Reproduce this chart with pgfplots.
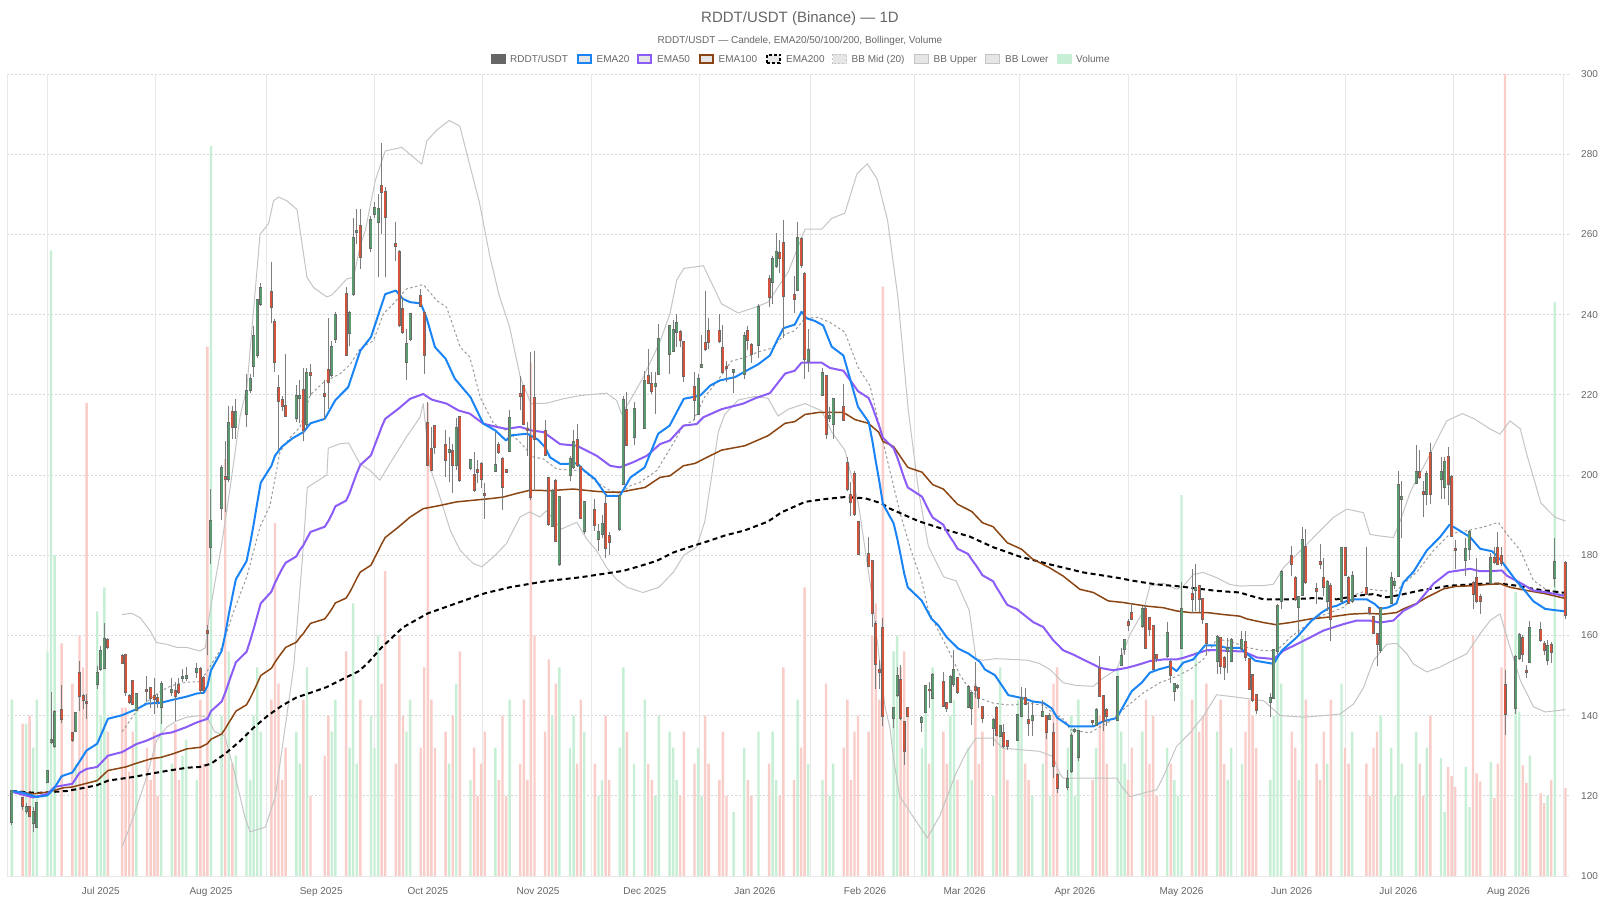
\documentclass[border=0pt]{standalone}
\usepackage{fontspec}
\setmainfont{Liberation Sans}
\usepackage{pgfplots}
\usepackage{pgfplotstable}
\pgfplotsset{compat=1.18}

\definecolor{txt}{HTML}{666666}
\definecolor{upc}{HTML}{5B9A6F}
\definecolor{dnc}{HTML}{D2553B}
\definecolor{bodyb}{HTML}{6A6A6A}
\definecolor{wick}{HTML}{7E7E7E}
\definecolor{volup}{HTML}{C6EFD5}
\definecolor{voldn}{HTML}{F9CDC8}
\definecolor{emaa}{HTML}{1A84F5}
\definecolor{emab}{HTML}{8B5CF6}
\definecolor{emac}{HTML}{8B4513}
\definecolor{bbc}{HTML}{C4C4C4}
\definecolor{bbm}{HTML}{9A9A9A}
\definecolor{gv}{HTML}{E8E8E8}
\definecolor{gh}{HTML}{D6D6D6}
\definecolor{legfill}{HTML}{E6E6E6}

\pgfplotstableread{
d o h l c v
0 113.5 121.5 112.7 121.2 22
4 116.2 118.2 115.5 117.2 19
6 113.1 117.2 111.0 116.0 16
7 112.3 118.4 112.0 118.2 22
10 123.4 126.3 123.2 126.2 28
11 133.4 145.8 132.9 133.9 78
12 132.3 141.3 132.0 141.0 40
18 136.1 140.8 135.8 140.7 14
24 147.8 152.4 146.6 150.5 33
25 151.6 157.4 151.2 156.0 20
26 151.8 163.2 151.6 159.0 36
35 141.4 145.5 141.2 145.4 21
42 142.2 148.7 138.0 147.8 24
45 146.0 149.5 145.0 146.4 14
48 149.3 151.6 148.3 149.7 15
49 149.5 152.1 148.7 149.9 17
52 150.8 153.0 149.5 151.5 12
56 182.0 196.6 177.8 188.6 91
59 191.7 202.5 188.9 201.8 20
61 199.1 217.3 198.2 212.9 28
63 212.0 219.0 209.1 215.6 15
66 215.1 225.3 212.0 220.9 18
67 221.1 225.3 220.4 224.0 12
68 227.1 237.2 224.4 234.7 20
69 230.0 244.0 229.3 243.6 26
70 242.7 248.0 242.2 246.7 18
80 214.2 222.5 213.3 219.8 18
81 219.2 223.6 212.9 219.6 14
83 212.7 226.7 212.0 225.5 26
90 224.9 233.3 224.4 232.0 18
91 234.0 240.6 233.0 240.0 22
95 235.4 240.9 232.1 240.3 16
96 245.1 264.0 244.7 259.1 34
97 260.5 266.3 257.6 260.9 14
101 256.6 264.5 255.5 263.6 20
102 265.0 268.0 264.2 266.6 16
103 263.0 270.0 249.3 266.3 30
111 228.1 236.4 223.6 232.7 18
112 233.9 240.5 233.5 240.1 22
123 205.8 209.5 198.3 206.2 14
125 202.4 214.3 201.2 211.8 24
129 201.8 204.0 201.2 203.7 12
136 201.0 210.7 200.8 202.6 16
140 206.1 216.1 205.7 214.3 22
152 187.4 196.5 187.0 196.1 20
154 177.8 194.8 177.4 194.6 26
157 200.1 204.8 198.6 204.0 16
158 201.9 211.1 201.5 208.2 20
161 186.1 193.6 185.3 193.2 18
165 184.0 187.8 181.1 185.7 10
166 185.4 189.9 184.4 187.8 12
171 186.5 195.2 186.1 194.8 16
172 197.8 219.6 197.4 218.6 26
175 209.4 218.1 207.4 216.5 14
178 211.8 225.9 211.6 223.4 22
181 222.3 225.7 215.1 222.7 10
182 225.3 237.6 225.1 234.0 20
185 230.1 237.4 225.3 237.1 18
186 230.9 238.6 230.6 236.1 16
187 235.7 240.2 231.9 237.9 12
193 215.3 225.1 215.0 224.0 16
194 227.0 234.8 226.7 227.4 10
203 225.8 226.5 220.5 226.2 8
206 225.3 235.6 224.0 234.7 16
210 232.4 242.7 229.3 242.0 18
214 248.2 254.7 242.7 253.8 18
215 252.0 260.4 251.6 255.6 12
221 246.2 263.1 245.8 259.1 22
224 228.4 236.4 225.8 231.1 14
228 220.0 226.7 219.7 225.5 12
230 214.3 216.9 213.1 214.7 10
231 212.6 219.1 209.1 218.9 14
248 139.3 142.2 136.9 141.8 28
249 145.1 152.1 144.7 149.8 30
256 138.3 139.8 136.0 139.3 16
257 141.0 147.6 140.6 147.4 22
259 144.5 150.5 144.3 150.1 26
264 143.5 150.1 143.1 149.7 20
265 148.0 156.3 147.2 151.3 22
269 142.2 147.6 141.8 147.2 16
270 141.8 146.0 137.7 145.7 12
276 136.9 139.3 132.3 138.9 10
278 135.0 137.5 134.8 137.3 26
283 134.0 140.5 133.9 140.2 22
284 139.9 147.2 139.6 144.3 20
287 138.9 143.5 135.0 139.9 10
290 139.9 143.9 139.6 141.0 14
292 139.1 140.6 138.9 139.8 10
297 122.3 126.5 121.5 124.2 16
298 126.1 135.7 125.7 134.8 20
299 136.2 136.9 135.7 136.5 10
300 129.7 136.5 128.6 136.1 22
305 137.6 141.9 137.5 141.3 16
311 139.0 149.8 138.8 149.7 26
312 152.5 156.9 152.3 154.8 18
313 156.7 159.0 155.2 158.8 14
318 162.3 167.3 161.9 166.7 18
325 154.8 163.3 154.4 160.5 16
327 146.1 148.2 143.6 148.0 12
328 147.2 148.0 146.7 147.5 10
329 156.9 173.2 156.6 166.7 47.5
333 171.3 177.8 166.2 171.9 28
339 153.6 160.0 150.3 159.7 18
342 156.1 159.3 150.5 156.9 12
343 153.6 159.3 153.3 158.8 16
346 156.8 161.2 156.2 158.8 14
354 143.3 145.6 139.6 144.4 12
355 144.4 156.7 144.1 156.4 20
356 156.2 167.8 155.4 167.4 31.5
357 168.6 176.2 166.6 175.9 24
362 167.0 169.7 160.3 169.5 12
363 170.1 187.1 169.8 183.8 30
370 168.5 173.8 166.2 173.2 14
374 168.6 182.1 168.2 181.9 24
377 168.6 176.1 168.2 174.9 18
385 156.3 167.0 155.5 166.8 20
388 168.2 175.7 168.0 174.3 16
389 172.6 174.4 171.5 173.4 10
390 174.9 201.0 174.5 197.5 32
391 193.9 198.5 184.4 194.5 14
395 197.9 207.6 197.7 200.7 18
398 195.3 201.0 192.5 200.2 16
402 199.0 204.4 193.9 200.7 14.7
403 196.9 204.4 193.9 203.2 8
409 178.8 184.2 174.9 181.6 13.6
410 181.6 186.3 178.8 185.7 8.6
416 173.0 180.5 172.8 179.3 14.2
423 142.0 155.2 140.5 154.6 35.4
424 154.4 160.5 153.8 160.1 20.5
427 153.4 163.5 153.2 161.8 15
432 153.8 158.8 152.6 157.4 10
434 174.4 184.3 172.0 178.4 71.6
}\upt

\pgfplotstableread{
d o h l c v
3 119.5 119.8 116.4 117.4 19
5 117.2 117.5 114.6 114.9 20
14 141.4 147.6 138.1 139.2 29
17 135.6 135.8 133.4 133.9 24
19 150.7 153.6 141.2 145.0 30
20 145.0 145.5 141.6 143.9 26
21 143.5 145.4 139.2 143.1 59
27 158.8 159.4 156.5 157.0 18
31 154.9 155.3 153.0 153.2 21
32 155.1 155.3 145.0 145.8 21
33 145.0 145.4 142.9 143.3 13
34 148.7 148.8 142.7 142.9 18
38 146.4 149.9 143.3 146.1 16
39 147.0 147.2 142.0 144.5 12
40 145.0 149.5 140.4 144.1 18
41 144.5 145.3 142.0 143.7 10
46 146.2 148.3 138.7 145.0 19
47 147.7 149.5 145.5 145.8 12
53 151.6 152.0 145.5 146.4 22
54 149.3 150.0 145.8 146.4 14
55 161.2 162.7 155.1 160.7 66
60 199.4 208.4 190.7 199.0 52
62 215.6 217.3 209.1 212.0 14
73 245.6 253.1 237.8 241.8 22
74 238.2 238.8 225.8 228.2 44
75 221.6 224.9 206.2 218.4 24
76 218.7 219.6 216.0 217.3 12
77 217.2 230.2 214.6 214.8 16
82 221.1 226.7 208.4 211.1 22
84 225.5 227.8 219.8 224.9 10
88 220.2 223.6 213.8 219.8 15
89 226.2 239.1 216.4 223.1 20
94 245.1 247.0 229.8 230.0 28
98 262.2 266.3 251.4 254.3 22
104 272.1 282.9 260.0 270.5 24
105 270.5 271.7 249.3 264.4 38
108 257.5 263.0 253.4 257.2 14
109 255.5 256.0 237.0 237.3 30
110 241.4 244.3 235.2 235.6 20
115 244.7 246.4 242.0 242.1 16
116 240.3 241.0 225.3 230.0 26
117 212.9 218.2 202.3 202.4 59
118 206.6 212.0 201.0 201.2 22
119 212.1 212.3 205.3 207.1 16
122 207.4 211.1 199.5 203.7 18
124 206.1 207.8 195.4 202.4 20
126 214.4 214.5 198.3 198.7 28
130 199.9 205.8 195.8 196.2 16
131 201.3 203.7 197.9 200.7 10
132 202.8 203.2 196.7 199.1 14
133 195.3 197.9 189.1 194.9 18
137 207.6 208.2 205.3 205.7 12
138 204.1 204.5 191.2 197.0 20
139 201.2 201.5 200.6 200.8 10
143 220.2 224.6 216.1 219.6 14
144 222.3 222.4 212.4 212.8 22
145 211.5 213.2 204.8 211.1 12
146 209.5 230.6 193.7 194.5 64
147 219.3 231.0 196.0 209.0 30
150 210.9 213.6 204.8 205.1 18
151 199.3 199.5 187.4 187.8 27
153 198.6 199.0 183.2 183.6 24
159 208.8 212.8 202.1 202.6 14
160 201.9 202.3 189.0 189.4 22
164 191.3 194.0 186.1 187.6 14
167 192.8 195.2 179.4 181.8 20
168 184.8 185.7 180.1 183.4 12
173 216.1 220.7 207.4 207.6 18
179 224.6 231.5 222.8 222.9 14
180 222.6 225.7 220.1 220.9 12
188 235.7 236.1 231.8 233.6 10
189 233.2 233.3 223.1 224.8 18
192 221.9 225.6 213.6 218.6 14
195 232.9 246.0 231.0 231.3 20
196 235.9 239.2 231.3 233.2 14
199 236.0 240.2 232.9 233.3 12
200 231.6 237.3 225.6 225.8 18
201 227.0 228.4 223.1 226.6 10
207 236.0 237.2 231.1 233.6 12
208 232.4 232.9 228.0 230.2 10
213 248.9 249.8 241.8 244.3 14
216 255.3 258.7 250.4 254.2 10
217 257.8 263.6 234.1 244.6 26
220 244.9 249.6 240.4 244.0 12
222 258.8 259.3 251.6 252.4 16
223 250.2 250.7 224.0 228.9 36
229 224.7 224.9 208.9 210.2 24
234 216.9 222.6 213.6 213.8 16
235 203.1 204.6 195.9 196.4 22
236 195.1 198.2 189.8 193.3 12
237 200.2 201.1 189.8 190.2 18
238 188.3 188.4 180.0 180.4 20
241 180.3 184.5 177.1 177.3 18
242 178.5 178.7 162.2 165.5 30
243 162.8 163.6 146.7 152.9 34
244 151.3 153.8 146.7 150.9 22
245 161.8 164.4 137.3 140.0 73.5
250 148.8 152.6 138.9 139.3 26
251 138.5 138.6 127.8 131.1 28
252 141.8 142.2 139.8 139.9 20
258 146.5 148.4 141.8 146.3 14
262 148.4 150.9 142.2 142.4 18
263 143.1 143.5 141.0 142.0 14
266 149.5 149.7 145.5 146.0 12
271 147.2 153.4 144.3 146.5 24
272 147.0 147.2 141.8 144.3 14
273 142.1 142.2 138.1 139.3 18
277 142.0 142.4 134.8 135.2 20
279 135.6 137.9 131.9 132.3 16
280 133.7 133.8 131.4 132.3 12
285 144.3 146.8 142.7 142.9 14
286 138.9 143.5 135.0 138.1 12
291 139.8 140.0 134.1 136.0 18
293 135.6 138.1 124.5 127.4 24
294 125.3 125.6 120.8 122.0 26
304 138.7 139.0 137.3 138.5 12
306 151.7 154.8 144.7 145.0 20
307 144.8 145.0 136.1 138.6 22
308 141.3 141.9 137.5 139.8 14
314 163.3 164.0 161.0 162.5 12
315 165.7 168.2 164.0 164.2 16
319 166.7 167.7 156.6 156.9 22
320 164.4 164.6 159.9 161.5 14
321 162.3 162.5 151.3 151.5 20
322 155.0 155.3 153.4 154.4 10
326 153.3 153.9 148.2 150.2 14
332 170.2 176.5 165.7 169.2 22
334 172.2 172.4 165.8 169.0 18
335 169.0 169.2 162.8 164.0 20
336 162.8 163.0 155.0 158.2 24
340 159.4 159.7 150.3 152.3 22
341 154.4 154.8 148.9 152.2 14
347 158.3 161.2 153.7 154.5 18
348 154.1 154.3 146.4 146.6 22
349 150.0 150.2 143.3 143.9 20
350 145.2 145.4 140.4 141.4 16
360 179.8 182.3 174.7 177.8 18
361 174.4 174.9 168.6 169.0 16
364 182.1 186.5 172.9 173.2 22
367 171.5 173.0 167.9 171.0 14
368 178.4 182.9 176.5 177.9 12
369 174.4 179.4 169.8 172.1 18
371 172.4 173.0 158.7 164.1 22
375 181.9 182.1 174.9 175.1 16
376 174.4 174.9 168.0 168.2 14
381 171.8 182.1 170.1 170.3 14
382 166.8 167.0 165.0 165.5 10
383 164.5 164.6 160.3 160.7 16
384 160.3 160.4 152.4 157.8 18
396 200.7 206.3 199.0 199.4 14
397 195.7 198.6 189.5 195.3 10
399 205.6 207.9 192.8 195.3 20
404 204.4 206.9 192.4 197.8 13.6
405 199.6 199.9 184.5 184.9 12.5
406 181.5 183.8 176.6 181.2 11.1
411 173.0 173.6 166.6 170.4 30
412 174.3 179.4 168.0 168.7 12.8
413 169.5 170.2 165.4 168.5 11.8
417 179.3 182.1 177.8 178.3 9.7
418 181.8 185.7 177.6 177.8 14
419 179.9 182.1 177.4 178.0 26
420 147.7 151.3 135.1 140.5 100
425 159.3 160.0 153.4 155.4 13.8
426 151.2 152.5 149.4 150.9 11.6
430 161.4 163.4 158.4 158.8 10.3
431 157.9 158.7 155.2 156.3 9.1
433 157.6 158.4 153.2 155.8 12
437 178.0 178.6 164.2 165.2 11
}\dnt

\pgfplotsset{
  base/.style={at={(7pt,24pt)}, anchor=south west, scale only axis,
    width=1562pt, height=802pt, xmin=-1.38, xmax=438},
  candle/.style 2 args={only marks, mark=none, mark size=0pt,
    mark options={draw=none, fill=none},
    error bars/y dir=plus, error bars/y explicit, error bars/error mark=none,
    error bars/error bar style={color=#1, line width=#2}},
}
\tikzset{
  gridh/.style={draw=gh, line width=0.8pt, dash pattern=on 1.6pt off 2.4pt},
  gridv/.style={draw=gv, line width=1pt},
}

\begin{document}
\begin{tikzpicture}[x=1pt,y=1pt]
\path[use as bounding box] (0,0) rectangle (1600,900);

% grid axis
\begin{axis}[base, ymin=0, ymax=100, hide axis]
\pgfplotsinvokeforeach{10,20,30,40,50,60,70,80,90,100}{
  \draw[gridh] (axis cs:-1.38,#1) -- (axis cs:438,#1);}
\pgfplotsinvokeforeach{10,40.5,71.5,102,132.5,163,193.5,224.5,254,283.5,314,344.5,375,405.5,436.5}{
  \draw[gridv] (axis cs:#1,0) -- (axis cs:#1,100);}
\draw[gridv] (axis cs:-1.38,0) -- (axis cs:-1.38,100);
\draw[gridv] (axis cs:438,0) -- (axis cs:438,100);
\draw[gridv] (axis cs:-1.38,0) -- (axis cs:438,0);
\end{axis}

% volume axis
\begin{axis}[base, ymin=0, ymax=100, hide axis]
\addplot[ybar, bar width=2.4pt, bar shift=0pt, fill=volup, draw=none] table[x=d,y=v]{\upt};
\addplot[ybar, bar width=2.4pt, bar shift=0pt, fill=voldn, draw=none] table[x=d,y=v]{\dnt};
\end{axis}

% price axis
\begin{axis}[base, ymin=100, ymax=300,
  axis line style={draw=none}, tick style={draw=none}, major tick length=0pt,
  ytick={100,120,...,300}, yticklabel pos=right,
  xtick={25,56,87,117,148,178,209,240,268,299,329,360,390,421},
  xticklabels={Jul 2025,Aug 2025,Sep 2025,Oct 2025,Nov 2025,Dec 2025,Jan 2026,Feb 2026,Mar 2026,Apr 2026,May 2026,Jun 2026,Jul 2026,Aug 2026},
  ticklabel style={font=\fontsize{10}{12}\selectfont, text=txt},
  yticklabel style={anchor=west, xshift=8.7pt},
  xticklabel style={yshift=-8pt},
  /pgf/number format/assume math mode=true,
  line join=round]

% Bollinger
\addplot[bbc, line width=1pt, mark=none] coordinates {
(31,165.2) (33.7,165.5) (36.1,164.4) (38.9,161.1) (40.7,158.2) (43.5,157.8) (46.4,157) (49.2,157) (52.9,156.1) (54.4,156.9) (55.3,163.6) (56.7,171.1) (59,182.7) (61.4,196.9) (64.2,214.7) (66.1,221.8) (69.8,260) (72.2,262.7) (73.6,268.4) (75,269.3) (77.3,268.4) (80.2,266.2) (83,249.3) (84.9,246.7) (88.6,244.4) (90,244.9) (91.4,246.2) (94.2,248.9) (96.1,249.3) (98,257.3) (99.4,260.9) (102.2,273.4) (105,280.8) (109.7,281.7) (115.3,277.5) (116.7,283.3) (119.5,286) (123,288.4) (126,287) (128.7,277.6) (131.5,268) (134.4,254.7) (137,245) (140,236.9) (143,224.4) (146,217.8) (150.4,217.9) (155.1,219) (159.8,219.8) (164.5,220.2) (167.3,220.4) (170.1,218.6) (171.5,215.2) (173.9,218.6) (177.6,224.4) (182.3,233.2) (185.1,240.2) (187,248.6) (189,251.5) (194.5,252.2) (199.6,242.7) (204.3,240.4) (209,241.8) (212.7,243.1) (218.4,250.7) (223.1,261.3) (227.8,261.3) (230.6,264) (234.3,265.3) (237.7,275.1) (240.6,277.6) (243.4,273.8) (246.3,263.6) (249.2,244.5) (252.1,216.5) (255,196.2) (257.8,182.2) (262.1,174.6) (265.6,173.6) (269.3,166.2) (271.2,154.2) (273.1,153.8) (276.8,154.2) (281.5,154) (285.7,153.8) (289,153) (292,151.5) (295.7,148.2) (299.5,147.5) (304.2,147.3) (307,149.4) (310.8,151.5) (314.5,160.2) (318.3,166.1) (320.1,172.3) (323.9,173) (327.6,171.5) (329.5,172.3) (332.3,175.2) (335.1,175.7) (338.9,174.4) (342.6,172.7) (345.4,172.3) (348.3,172.4) (352.1,172.4) (354.9,172.8) (357.7,176.9) (361.4,180.2) (365.2,183.6) (368.9,186.9) (371.7,189.4) (375.5,191.5) (380.2,190.6) (382,185.2) (384.8,184.8) (388.6,184.4) (390.5,188.5) (393.3,195.6) (394.2,197.3) (398,203.6) (401.7,210.2) (403.6,213.5) (408,215.3) (411.4,214) (415.7,211.5) (418.6,210.2) (421.4,213.5) (424.3,211.5) (426.1,205.2) (430.1,193) (434,189.5) (437,188.5)};
\addplot[bbc, line width=1pt, mark=none] coordinates {
(31,107.3) (33.2,112.3) (35.1,117.2) (37.9,124.7) (40.7,133.8) (43.5,137.1) (46.4,138.7) (49.2,139.6) (52.9,140) (55,139.5) (57,136) (59.8,135) (62,128) (65.5,114.8) (67,111) (71.3,112.2) (74.1,119.8) (77,138) (79.3,152.4) (81.7,179) (83.1,196.9) (88.6,200) (89,206.7) (92.3,207.8) (94.7,208) (97.9,202.8) (100.7,201.2) (103.5,198.7) (106.3,202.8) (111,209.5) (114.8,214.4) (115.7,217.8) (117.6,202) (120.4,194.5) (123.3,186.2) (126.1,181.2) (129.8,177.9) (132.2,177.1) (135.5,179.6) (139.1,182.9) (142.9,189.5) (145.7,190.8) (148.5,189.5) (150.4,191.1) (154.5,186.5) (158.9,188.2) (161.7,184) (164.5,181.1) (167.3,176.9) (170,174) (173,172) (177.5,170.7) (182,172) (186.1,175.8) (189,180) (192.6,182) (194.9,188.4) (198.7,210.7) (200.5,215.1) (204.3,218.7) (209,219.6) (212.7,219.1) (215.5,214.7) (218.4,216.4) (223.1,217.8) (227.8,216) (230.6,210.7) (234.3,206.2) (238.1,192.9) (241.8,170.7) (245.6,142.2) (247,136.9) (247.9,129.8) (249.7,119.9) (253.5,114.8) (257.5,109.5) (261,115) (265.6,125.7) (268.4,130.7) (271.2,134.4) (275.9,134.4) (278.7,131.9) (283.4,131.5) (289,131.1) (292.8,129.8) (294.7,125.7) (295.7,124.4) (301.4,124.4) (310.8,124.4) (312.2,122.3) (314.5,119.8) (318.3,120.7) (322,121.5) (323.9,124.8) (327.6,132.3) (331.4,135.7) (335.1,139.8) (338.9,145.2) (342.6,144.8) (345.4,144.5) (352.1,143.7) (356.8,140) (363.3,139.6) (368.9,140) (373.6,140.4) (377.4,142.9) (380.2,147) (383,153.7) (386.7,157.8) (389.5,158) (392.4,155.4) (394.2,152.9) (398,150.9) (401.7,152.1) (405.5,153.8) (409.2,155.4) (413,160.4) (415.8,163.7) (418.6,165.4) (420.5,159.6) (424.3,148.8) (428,142.2) (431.3,140.9) (437,141.5)};
\addplot[bbm, line width=1pt, dash pattern=on 2.5pt off 2.5pt, mark=none] coordinates {
(31,136) (33,138.5) (35,141) (38,143.5) (41.7,146) (45,147.5) (49,148.3) (53,148.5) (55.3,151.6) (59,156.9) (62.3,165.8) (66.1,174.7) (69.8,187.1) (72.6,192.4) (75.4,205.8) (78.2,209.3) (81.1,212) (83.9,220) (87.7,223.1) (92.4,225.3) (95.2,227.6) (98,231.6) (101.7,233.5) (104.5,240.2) (107.3,242.7) (111,246.4) (115.7,247.5) (119.5,243.5) (122.3,241.8) (126.1,231.9) (128.8,229.4) (131.7,219.4) (135.5,212.8) (139.1,211.1) (142.9,208.2) (146.6,204.5) (149.5,204) (153.2,201.5) (157,201.2) (160.7,201.1) (164.5,198.2) (168.3,196.1) (171,195.4) (173.9,197.3) (176.7,198.2) (181.4,201.1) (185.1,206.5) (188.9,212.3) (191.7,213.6) (194.9,219.5) (198.5,223.5) (202.4,228.4) (206.2,229.3) (209.9,230.7) (213.7,231.6) (217.5,235.1) (220.2,236) (223.1,239.1) (226.9,239.3) (230.6,237.8) (234.3,235.6) (238.1,226.7) (241.4,222.2) (244.2,211.6) (247,200.9) (250,190) (253,181) (255.9,173.6) (257.8,166.2) (260.6,161.2) (263.9,155.5) (266.7,150.1) (269.5,146.4) (272.3,144.3) (276.1,143.1) (280.8,142.6) (285.5,143.1) (290.1,142.6) (292.9,140.6) (296.2,138.9) (297.6,136.5) (303.2,135.7) (308.9,138.6) (313.6,142.3) (318.3,145.7) (322.9,148.2) (327.6,149.8) (331.4,151.5) (335.1,154) (338.9,159) (342.6,158.6) (347.4,157) (352.1,156.2) (355.8,156.2) (359.6,159.5) (363.3,162) (367.1,164.5) (370.8,165.7) (374.6,167) (378.3,170.3) (382,171.5) (385.8,171.1) (389.5,171.1) (391.4,172.8) (395.2,175.8) (399.9,181.2) (404.5,185.3) (409.2,186.1) (413.9,187) (418.1,188.2) (420.5,185.3) (424.3,181.2) (428,173.7) (431.3,171.6) (437,170)};

% EMA200
\addplot[black, line width=2pt, dash pattern=on 5pt off 3.5pt, mark=none] coordinates {
(0,121.2) (7,120.7) (15.4,121.2) (19.2,121.8) (23.8,122.6) (27.1,123.8) (34.2,124.7) (38.9,125.5) (43.5,126.2) (49.2,127) (52.9,127.2) (56,128) (60,130.5) (64,133.5) (68,137) (72,140) (76,142.5) (80,144.5) (85,146) (88.5,147.1) (97.6,151.1) (100,153) (104,157) (110,162) (117,165.5) (125,168) (133,170.5) (140,172) (150,173.5) (160,174.5) (172,176.1) (176.7,177.3) (181.4,178.6) (186.1,180.7) (190.8,182.1) (195.5,183.4) (200.5,184.9) (206.2,186.2) (212.7,188.4) (216.5,190.7) (223.1,193.3) (228.7,194) (234.3,194.5) (240,194.2) (244.7,192.9) (247,191.6) (255,188.5) (262,186.5) (269.3,184.7) (276,182) (283.7,179.6) (292,177.7) (297.6,176.5) (301.4,175.7) (310.8,174.4) (315.5,173.6) (322,172.7) (327.6,172.3) (333.3,171.7) (338.9,171.1) (345.4,170.7) (348.3,169.9) (352.1,169) (359.6,169) (366.1,169.3) (372.7,169) (378.3,169.9) (383,170.3) (386.7,169.5) (390.5,170.1) (396.1,171.2) (404.5,172.4) (413.9,172.9) (418.6,172.9) (423.3,172.4) (428,171.6) (431.3,171.2) (437,170.6)};
% EMA100
\addplot[emac, line width=1.5pt, mark=none] coordinates {
(0,121.2) (6,120.5) (10,120.9) (14.5,122) (17,122.2) (24,123.8) (27,126.3) (32,127.2) (35,128.1) (39,129.2) (42,129.6) (45.4,130.5) (49.2,131.7) (53,132.1) (55,133) (56,134.1) (59,135.4) (60,136.7) (61,138.2) (62,139.6) (63,141.1) (66,142.7) (67,144.3) (68,146.1) (69,148) (70,150) (73,151.8) (74,153.3) (75,154.6) (76,155.8) (77,157) (80,158.3) (81,159.5) (82,160.5) (83,161.8) (84,163) (88,164.1) (89,165.3) (90,166.6) (91,168.1) (94,169.3) (95,170.7) (96,172.4) (97,174.2) (98,175.8) (101,177.5) (102,179.3) (103,181) (104,182.8) (105,184.4) (108.7,187) (112,189.5) (115.7,191.6) (120.4,192.4) (125.1,193.3) (129.8,193.7) (134.5,194.1) (138.2,194.5) (142,195.4) (145.7,196.2) (151.4,196.1) (157.9,196.5) (164.5,195.9) (168.3,195.7) (171,195.7) (173.9,196.2) (178.1,196.9) (182.3,199.4) (185.1,199.8) (188.9,202.3) (192.2,202.9) (195.5,204.4) (199.6,206.2) (206.2,207.3) (212.7,209.8) (217.5,212.9) (220.2,213.3) (223.1,215.1) (226.9,215.6) (230.6,215.6) (233.9,215.6) (237.2,213.8) (240.9,212.9) (243.8,210.7) (245,208.4) (248,207.1) (252,201.9) (256,200.7) (259,197.6) (262,196.5) (266,192.7) (270,190.9) (273,188.1) (276,187.1) (280,183.1) (284,181.5) (287,179.1) (292,176.8) (295.7,174.8) (300.4,171.5) (304.2,170.7) (308.4,168.6) (312.6,168.2) (319.2,167.3) (323.9,166.9) (327.6,166.1) (331.4,165.7) (336.1,165.7) (340.8,165.2) (345.4,164.8) (347.4,164.1) (352.1,163.2) (355.4,162.7) (359.6,163.2) (365.2,164.1) (370.8,164.6) (376.5,165.3) (381.1,165.5) (385.8,165.3) (389.5,165.7) (391.4,166.6) (395.2,168) (398,169.5) (402.7,171.6) (406,172.2) (411.2,172.4) (414.9,172.7) (418.6,172.9) (421.4,172) (426.1,171.2) (431.3,170.4) (437,169.2)};
% EMA50
\addplot[emab, line width=2pt, mark=none] coordinates {
(0,121) (6,119.6) (10,120.5) (12,122.2) (17,123) (19,125.7) (21,126.7) (24,127.2) (27,130) (31,130.9) (35,132.9) (38,133.8) (42,135.4) (45,135.8) (49,137.1) (52,138.3) (55,139.2) (56,141.1) (59,143.5) (60,145.7) (61,148.3) (62,150.8) (63,153.3) (66,155.9) (67,158.6) (68,161.6) (69,164.8) (70,168) (73,170.9) (74,173.1) (75,174.9) (76,176.6) (77,178.1) (80,179.7) (81,181.3) (82,182.5) (83,184.2) (84,185.8) (88,187.1) (89,188.5) (90,190.2) (91,192.2) (94,193.6) (95,195.5) (96,198) (97,200.4) (98,202.5) (101,204.9) (102,207.3) (103,209.6) (104,212) (105,214) (108.7,216.5) (112,219) (115.7,220.2) (118.1,218.8) (122.3,217.8) (125.6,216.1) (128.8,215.3) (132.6,212.8) (136.3,212) (139.1,211.5) (142.9,212) (146.2,211.1) (149.5,210.7) (154.2,207.7) (158.9,207.3) (164.5,204.8) (168.3,202.3) (171,201.9) (174.8,203.2) (178.6,204.8) (182.3,207.7) (185.1,208.6) (188.9,212.3) (192.6,212.7) (194.5,214.4) (199.6,216.4) (205.7,217.8) (209,219.1) (213.2,220.4) (217.5,225.3) (220.2,226) (222.1,228) (227.8,228) (230.1,226.7) (233.9,226) (238,220.9) (241,219.2) (242,217.1) (243,214.6) (244,212.1) (245,209.3) (248,206.7) (249,204.5) (250,201.9) (251,199.2) (252,196.9) (256,194.6) (257,192.8) (258,191) (259,189.4) (262,187.6) (263,185.8) (264,184.4) (265,183.1) (266,181.6) (269,180.3) (270,178.9) (271,177.7) (272,176.4) (273,175) (276,173.5) (277,171.9) (278,170.5) (279,169) (280,167.6) (282.6,166.6) (287.3,163.3) (290.1,162.1) (292.9,158.8) (295.7,156.3) (298.6,155.2) (306.1,151.9) (309.8,151.3) (313.6,151.9) (316.9,152.7) (320.1,153.6) (323.9,154) (327.6,154) (329.5,154.4) (332.3,155.2) (336.1,156.3) (338.9,156.3) (342.6,156.1) (346.4,156) (350.2,154.5) (354.9,154.1) (357.7,156.2) (361.4,157.8) (365.2,159.5) (368.9,161.2) (371.7,162) (374.5,162.8) (378.3,163.7) (382,163.7) (384.8,163.2) (388.6,163.7) (391.4,166.1) (395.2,167.9) (399.9,172.9) (404.1,175.8) (410.2,176.6) (413,176) (415.8,176) (419.1,176.2) (420.5,174.9) (424.7,172.9) (428,171.2) (431.3,170.8) (437,169.8)};
% EMA20
\addplot[emaa, line width=2pt, mark=none] coordinates {
(0,121.2) (3,120.8) (7,119.7) (10,120.1) (12,122) (14,124.9) (17,125.8) (19,128.5) (21,131.3) (24,133) (27,139.2) (31,140.1) (35,141.6) (38,143) (42,143.2) (45,143.9) (49,144.7) (52,145.5) (54,145.7) (55,147.4) (56,151.3) (59,156.1) (60,160.2) (61,165.2) (62,169.7) (63,174) (66,178.5) (67,182.8) (68,187.7) (69,193) (70,198.1) (73,202.3) (74,204.8) (75,206) (76,207.1) (77,207.8) (79,209.2) (82,210.7) (84,212.9) (88,214) (91,218.7) (94.6,221.9) (98,231) (101,234.4) (105,245.1) (108,246) (110,243.9) (112,243.1) (115,242.8) (116.6,239.3) (119,231.9) (122,229) (124.6,224) (129,219.4) (132.6,212.8) (136,211.1) (139,208.6) (140.5,209.9) (145,210.3) (148,208.8) (150,206.9) (151.4,204.4) (154.2,202.8) (156.5,202.8) (159,202.9) (160.7,201.3) (164,199) (167.3,194.8) (171,194.8) (174,199.4) (178,201.9) (181.8,210.3) (185,212.3) (189,219) (193.6,219.8) (196.4,222.3) (199.2,223.6) (203.4,224.4) (206.2,225.8) (209.9,227.6) (213.2,229.8) (215.1,233.3) (217,236.6) (220.2,237.5) (222.1,240.7) (223.5,239.1) (225.9,238.4) (228.2,237.3) (230.6,232) (233.9,229.8) (238,217) (241,213.2) (242,208.7) (243,203.4) (244,198.4) (245,192.8) (248,188) (249,184.3) (250,180) (251,175.4) (252,172) (255.9,168.7) (258.7,164.1) (260.6,162.5) (262.9,159.6) (266.2,156.7) (269,155.5) (272.3,153.4) (273.7,151.5) (276.5,150.1) (280.3,145.1) (284.5,144.3) (287.3,143.5) (290.1,143.2) (292.5,141.8) (294,139.5) (297.6,137.3) (304.2,137.3) (307,138.6) (310.8,139.4) (312.6,142.3) (315,146.1) (317.8,148.2) (320.1,150.7) (322.5,151.5) (325.8,152.3) (327.6,151.1) (329.5,153.2) (332.3,154) (335.6,157.5) (338.9,157.5) (341.7,156.9) (345.4,156.9) (349.7,153.7) (354.9,152.9) (357.2,156.2) (361.4,159.5) (365.6,163.7) (368.4,165.7) (370.8,167) (372.7,167.4) (375.5,168.6) (377.8,169) (381.1,169) (383.4,167.8) (384.8,166.6) (387.2,167) (389.5,168) (391.4,173.2) (394.2,175.8) (398,181.2) (401.7,184.5) (404.4,187.6) (406,186.8) (410.2,184.5) (413,181.6) (416.3,181) (418.6,179) (420.3,177) (422.8,174) (425.7,171) (428,168.5) (431.3,166.6) (434,166.3) (437,166)};

% candles: wicks
\addplot[candle={wick}{1pt}]
  table[x=d, y=l, y error expr=\thisrow{h}-\thisrow{l}]{\upt};
\addplot[candle={wick}{1pt}]
  table[x=d, y=l, y error expr=\thisrow{h}-\thisrow{l}]{\dnt};
% bodies: outline
\addplot[candle={bodyb}{3pt}]
  table[x=d, y expr=\thisrow{o}-0.25, y error expr=\thisrow{c}-\thisrow{o}+0.5]{\upt};
\addplot[candle={bodyb}{3pt}]
  table[x=d, y expr=\thisrow{c}-0.25, y error expr=\thisrow{o}-\thisrow{c}+0.5]{\dnt};
% bodies: fill
\addplot[candle={upc}{2pt}]
  table[x=d, y=o, y error expr=\thisrow{c}-\thisrow{o}]{\upt};
\addplot[candle={dnc}{2pt}]
  table[x=d, y=c, y error expr=\thisrow{o}-\thisrow{c}]{\dnt};
\end{axis}

% title and subtitle
\node[anchor=base, inner sep=0pt, text=txt, font=\fontsize{15}{18}\selectfont] at (800,877.3) {RDDT/USDT (Binance) — 1D};
\node[anchor=base, inner sep=0pt, text=txt, font=\fontsize{10}{12}\selectfont] at (800,856.6) {RDDT/USDT — Candele, EMA20/50/100/200, Bollinger, Volume};

% legend
\begin{scope}[every node/.style={anchor=base west, inner sep=0pt, text=txt, font=\fontsize{10}{12}\selectfont}]
\fill[txt] (490.6,835.5) rectangle ++(15,10.5);
\node at (510,837.2) {RDDT/USDT};
\filldraw[fill=legfill, draw=emaa, line width=2pt] (578,836.5) rectangle ++(13,8.5);
\node at (596.5,837.2) {EMA20};
\filldraw[fill=legfill, draw=emab, line width=2pt] (638,836.5) rectangle ++(13,8.5);
\node at (657,837.2) {EMA50};
\filldraw[fill=legfill, draw=emac, line width=2pt] (699.5,836.5) rectangle ++(13,8.5);
\node at (718.5,837.2) {EMA100};
\filldraw[fill=legfill, draw=black, line width=2pt, dash pattern=on 3pt off 2pt] (767,836.5) rectangle ++(13,8.5);
\node at (786,837.2) {EMA200};
\filldraw[fill=legfill, draw=bbc, line width=1pt, dash pattern=on 2pt off 2pt] (832.5,836) rectangle ++(14,9.5);
\node at (851.5,837.2) {BB Mid (20)};
\filldraw[fill=legfill, draw=bbc, line width=1pt] (914,836) rectangle ++(14,9.5);
\node at (933.5,837.2) {BB Upper};
\filldraw[fill=legfill, draw=bbc, line width=1pt] (985.5,836) rectangle ++(14,9.5);
\node at (1005,837.2) {BB Lower};
\fill[volup] (1056.5,835.5) rectangle ++(15,10.5);
\node at (1076,837.2) {Volume};
\end{scope}
\end{tikzpicture}
\end{document}
